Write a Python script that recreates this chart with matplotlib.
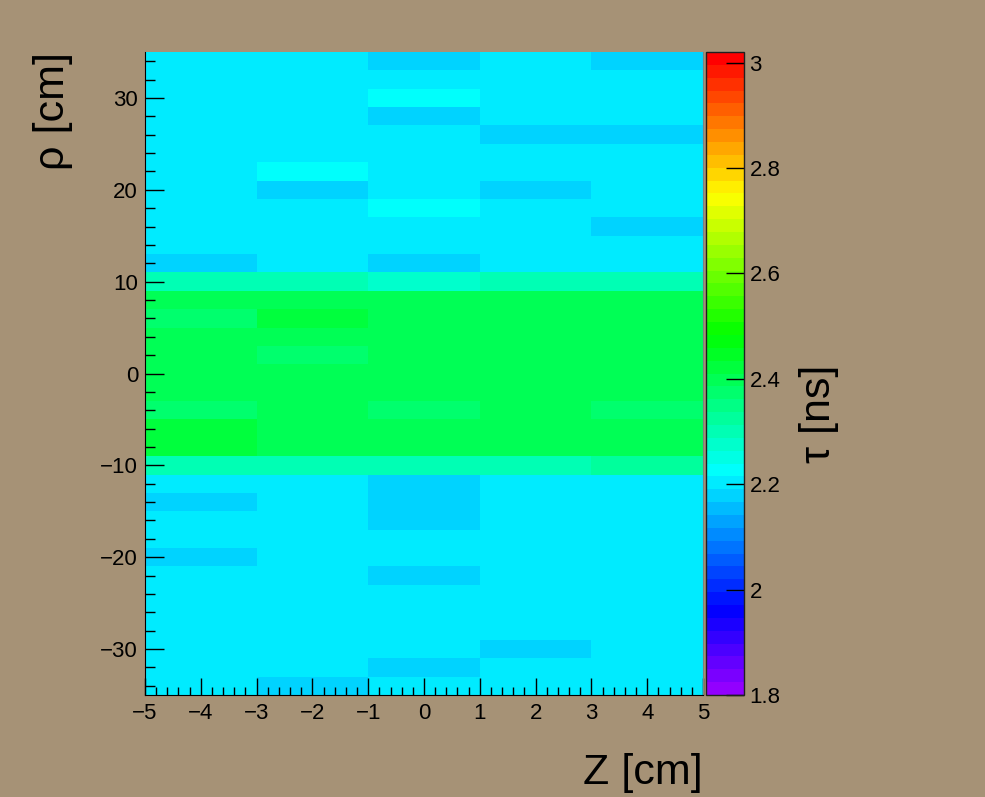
import colorsys
import numpy as np
import matplotlib
matplotlib.use("Agg")
import matplotlib.pyplot as plt
from matplotlib.colors import ListedColormap

plt.rcParams['font.family'] = ['Liberation Sans', 'DejaVu Sans']

# bin edges
z_edges = [-5, -3, -1, 1, 3, 5]
rho_edges = list(range(-35, 36, 2))

# mean lifetime per bin, rows from rho = 34 (top) down to rho = -34
tau_rows = [
    [2.20, 2.20, 2.18, 2.20, 2.18],    # 34
    [2.20, 2.20, 2.20, 2.20, 2.20],    # 32
    [2.20, 2.20, 2.225, 2.20, 2.20],   # 30
    [2.20, 2.20, 2.18, 2.20, 2.20],    # 28
    [2.20, 2.20, 2.20, 2.18, 2.18],    # 26
    [2.20, 2.20, 2.20, 2.20, 2.20],    # 24
    [2.20, 2.225, 2.20, 2.20, 2.20],   # 22
    [2.20, 2.18, 2.20, 2.18, 2.20],    # 20
    [2.20, 2.20, 2.225, 2.20, 2.20],   # 18
    [2.20, 2.20, 2.20, 2.20, 2.18],    # 16
    [2.20, 2.20, 2.20, 2.20, 2.20],    # 14
    [2.18, 2.20, 2.18, 2.20, 2.20],    # 12
    [2.30, 2.30, 2.275, 2.30, 2.30],   # 10
    [2.40, 2.40, 2.40, 2.40, 2.40],    # 8
    [2.375, 2.42, 2.40, 2.40, 2.40],   # 6
    [2.40, 2.40, 2.40, 2.40, 2.40],    # 4
    [2.40, 2.375, 2.40, 2.40, 2.40],   # 2
    [2.40, 2.40, 2.40, 2.40, 2.40],    # 0
    [2.40, 2.40, 2.40, 2.40, 2.40],    # -2
    [2.375, 2.40, 2.375, 2.40, 2.375], # -4
    [2.42, 2.40, 2.40, 2.40, 2.40],    # -6
    [2.42, 2.40, 2.40, 2.40, 2.40],    # -8
    [2.30, 2.30, 2.30, 2.30, 2.325],   # -10
    [2.20, 2.20, 2.18, 2.20, 2.20],    # -12
    [2.18, 2.20, 2.18, 2.20, 2.20],    # -14
    [2.20, 2.20, 2.18, 2.20, 2.20],    # -16
    [2.20, 2.20, 2.20, 2.20, 2.20],    # -18
    [2.18, 2.20, 2.20, 2.20, 2.20],    # -20
    [2.20, 2.20, 2.18, 2.20, 2.20],    # -22
    [2.20, 2.20, 2.20, 2.20, 2.20],    # -24
    [2.20, 2.20, 2.20, 2.20, 2.20],    # -26
    [2.20, 2.20, 2.20, 2.20, 2.20],    # -28
    [2.20, 2.20, 2.20, 2.18, 2.20],    # -30
    [2.20, 2.20, 2.18, 2.20, 2.20],    # -32
    [2.20, 2.18, 2.20, 2.20, 2.20],    # -34
]
tau = np.array(tau_rows[::-1])

tau_min, tau_max = 1.8, 3.02
cbar_ticks = [1.8, 2.0, 2.2, 2.4, 2.6, 2.8, 3.0]
cbar_labels = ['1.8', '2', '2.2', '2.4', '2.6', '2.8', '3']

# "pretty" violet -> red palette, 50 steps in hue
pal = []
for i in range(49):
    hue = 280 - (i + 1) * 280 / 50
    pal.append(colorsys.hls_to_rgb(hue / 360, 0.5, 1.0))
pal.append((1.0, 0.0, 0.0))
cmap = ListedColormap(pal)

bg = '#a69276'
fig = plt.figure(figsize=(9.85, 7.97), dpi=100, facecolor=bg)
W, H = 985, 797
ax = fig.add_axes([145 / W, 102 / H, 558 / W, 643 / H])
cax = fig.add_axes([706 / W, 102 / H, 38 / W, 643 / H])

mesh = ax.pcolormesh(z_edges, rho_edges, tau, cmap=cmap, vmin=tau_min, vmax=tau_max)
ax.set_xlim(-5, 5)
ax.set_ylim(-35, 35)

ax.set_xticks(np.arange(-5, 6, 1))
ax.set_xticks(np.arange(-5, 5.01, 0.2), minor=True)
ax.set_yticks([-30, -20, -10, 0, 10, 20, 30])
ax.set_yticks(np.arange(-34, 35, 2), minor=True)
ax.tick_params(axis='both', which='both', direction='in', labelsize=16, color='black')
ax.tick_params(axis='x', which='major', length=12, width=1, pad=6)
ax.tick_params(axis='x', which='minor', length=6, width=1)
ax.tick_params(axis='y', which='major', length=14, width=1, pad=5)
ax.tick_params(axis='y', which='minor', length=7, width=1)

ax.spines['top'].set_visible(False)
ax.spines['right'].set_color('#808080')
ax.spines['left'].set_color('black')
ax.spines['bottom'].set_color('black')

cbar = fig.colorbar(mesh, cax=cax)
cbar.set_ticks(cbar_ticks)
cbar.set_ticklabels(cbar_labels)
cbar.minorticks_off()
cax.tick_params(direction='in', length=13, width=1, labelsize=16, pad=4, color='black')
cbar.outline.set_edgecolor('#202020')
cbar.outline.set_linewidth(1)

fig.text(703 / W, 1 - 784 / H, 'Z [cm]', fontsize=31, ha='right', va='baseline')
fig.text(53 / W, 1 - 52 / H, 'ρ [cm]', fontsize=31, rotation=90, ha='center', va='top')
fig.text(819 / W, 1 - 414 / H, 'τ [ns]', fontsize=31, rotation=90, ha='center', va='center')

fig.savefig('out.png', dpi=100, facecolor=bg)
